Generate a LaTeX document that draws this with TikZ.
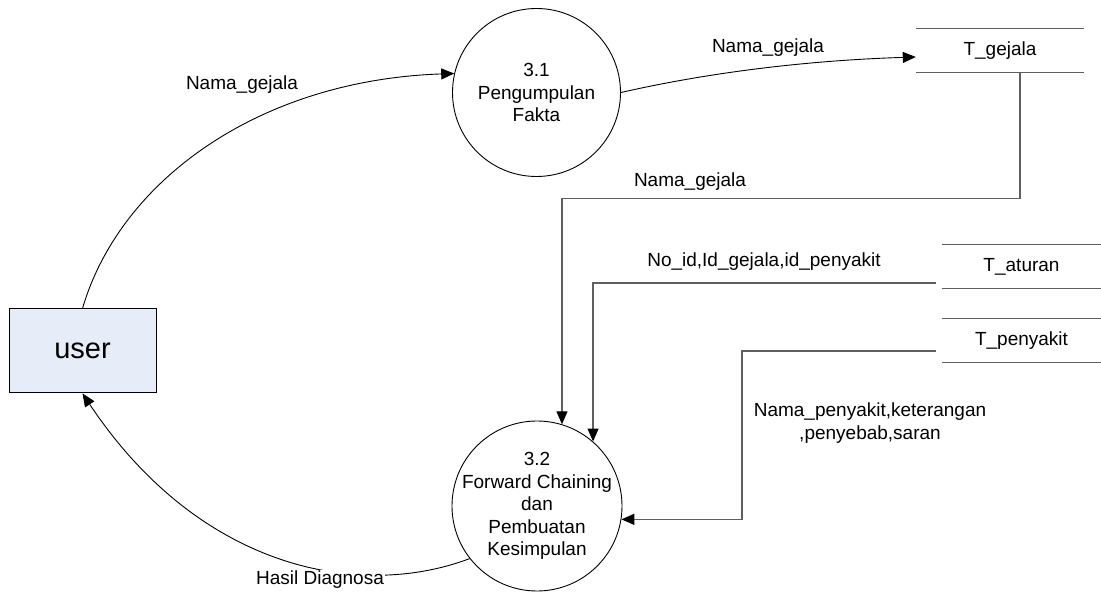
\documentclass[tikz,border=0pt]{standalone}
\usepackage{fontspec}
\setmainfont{Liberation Sans}
\usetikzlibrary{arrows.meta}
\definecolor{userfill}{RGB}{230,236,248}
\definecolor{linegray}{RGB}{95,95,95}
\newcommand{\lbfont}{\fontsize{19}{22.5}\selectfont}
\tikzset {
  % external entity
  ent/.style = {
    draw = black,
    rectangle,
    fill = userfill,
    line width = 1pt,
    minimum width = 147pt,
    minimum height = 84pt,
    font = \fontsize{29}{34}\selectfont
  },
  % process bubble
  proc/.style = {
    draw = black,
    circle,
    line width = 0.9pt,
    inner sep = 0pt
  },
  ptext/.style = {
    align = center,
    font = \lbfont
  },
  % data store, lines are drawn afterwards
  store/.style = {
    inner sep = 0pt,
    minimum height = 43pt,
    font = \lbfont
  },
  storeline/.style = {
    draw = linegray,
    line width = 1.3pt
  },
  flow/.style = {
    draw = black,
    line width = 0.9pt,
    -{Triangle[length = 13pt, width = 11pt, color = black]}
  },
  % orthogonal flow
  sflow/.style = {
    flow,
    draw = linegray,
    line width = 1.3pt
  },
  lbl/.style = {
    font = \lbfont,
    inner sep = 1pt
  }
}
\begin{document}
\begin{tikzpicture}[x = 1pt, y = -1pt]
    \useasboundingbox (0,0) rectangle (1101,593);

    \node[ent] (user) at (82.5,351) {user};
    \node[proc, minimum size = 168pt,
      label = {[ptext]center:3.1\\Pengumpulan\\Fakta}] (c31) at (536.5,92.5) {};
    \node[proc, minimum size = 170pt,
      label = {[ptext]center:3.2\\Forward Chaining\\dan\\Pembuatan\\Kesimpulan}] (c32) at (537,506) {};

    \node[store, minimum width = 168pt] (gej) at (1000,50.5) {T\_gejala};
    \node[store, minimum width = 159pt] (atr) at (1021.5,266.5) {T\_aturan};
    \node[store, minimum width = 159pt] (pen) at (1021.5,340.5) {T\_penyakit};
    \foreach \s in {gej,atr,pen}
      \draw[storeline] (\s.north west) -- (\s.north east)
        (\s.south west) -- (\s.south east);

    \coordinate (pbend) at (742,351);

    \draw[flow] (user.north)
    .. controls (120,180) and (260,80) .. (c31.167);
    \node[lbl] (l1) at (242,85) {Nama\_gejala};

    \draw[flow] (c31.east)
    .. controls (720,70) and (820,60) .. ([yshift = -6.5pt]gej.west);
    \node[lbl] (l2) at (768,48) {Nama\_gejala};

    \draw[sflow] ([xshift = 20pt]gej.south)
    -- ++(0,126)
    -| (c32.73);
    \node[lbl] (l3) at (690,182) {Nama\_gejala};

    \draw[sflow] ([xshift = -6pt, yshift = -16.5pt]atr.west)
    -| (c32.49.7);
    \node[lbl] (l4) at (764,262) {No\_id,Id\_gejala,id\_penyakit};

    \draw[sflow] ([xshift = -6pt, yshift = -10.5pt]pen.west)
    -- (pbend)
    |- (c32.-9.5);
    \node[lbl, align = center] (l5) at (870,423)
      {Nama\_penyakit,keterangan\\,penyebab,saran};

    \draw[flow] (c32.218.7)
    .. controls (360,600) and (200,570) .. (user.south);
    \node[lbl, fill = white] (l6) at (320,580) {Hasil Diagnosa};
\end{tikzpicture}
\end{document}
